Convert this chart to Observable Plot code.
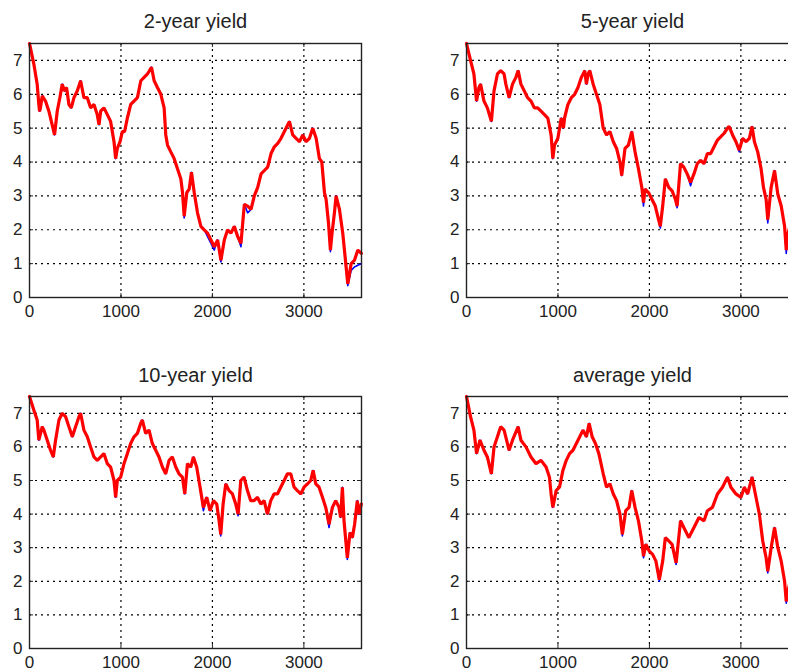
<!DOCTYPE html>
<html>
<head>
<meta charset="utf-8">
<script src="https://cdn.jsdelivr.net/npm/d3@7"></script>
<script src="https://cdn.jsdelivr.net/npm/@observablehq/plot@0.6"></script>
<style>
  body { margin: 0; background: #fff; }
  #fig { position: relative; width: 788px; height: 671px; overflow: hidden; background: #fff; }
  #fig > .cell { position: absolute; width: 390px; }
  #fig svg { max-width: none !important; display: block; }
</style>
</head>
<body>
<div id="fig"></div>
<script>
// Axis ticks shared by all four panels
const xTicks = [0, 1000, 2000, 3000];
const yTicks = [0, 1, 2, 3, 4, 5, 6, 7];
const titles = ["2-year yield", "5-year yield", "10-year yield", "average yield"];

// 2-year yield: day index, observed (blue) and fitted (red)
const day2 = [0,47,84,102,110,120,139,175,212,248,274,303,332,358,383,405,431,457,486,522,559,595,632,668,705,741,760,778,814,851,887,924,942,960,990,1015,1040,1070,1107,1143,1180,1217,1253,1290,1334,1363,1399,1436,1472,1490,1509,1545,1582,1618,1655,1673,1691,1720,1746,1771,1801,1837,1874,1910,1947,1984,2020,2057,2093,2130,2166,2203,2239,2276,2312,2349,2385,2422,2458,2495,2532,2568,2604,2641,2677,2714,2750,2787,2842,2878,2915,2951,2988,3024,3061,3097,3134,3170,3196,3225,3243,3269,3290,3308,3334,3352,3389,3425,3462,3480,3517,3553,3590,3628];
const fit2 = [7.5,6.9,6.3,5.7,5.5,5.6,5.95,5.8,5.5,5.1,4.8,5.5,5.9,6.3,6.1,6.2,5.7,5.6,5.9,6.1,6.4,5.9,5.9,5.6,5.7,5.4,5.1,5.5,5.6,5.4,5.2,4.6,4.1,4.4,4.6,4.9,4.9,5.3,5.7,5.8,5.9,6.4,6.5,6.6,6.8,6.4,6.2,6.0,5.6,4.8,4.5,4.3,4.1,3.8,3.5,3.1,2.4,3.1,3.2,3.7,3.1,2.5,2.1,2.0,1.9,1.7,1.5,1.7,1.1,1.7,2.0,1.9,2.1,1.8,1.6,2.75,2.7,2.6,3.0,3.25,3.65,3.75,3.85,4.25,4.45,4.55,4.7,4.9,5.2,4.8,4.7,4.6,4.8,4.6,4.7,5.0,4.7,4.1,4.0,3.1,2.9,2.2,1.4,1.9,2.5,3.0,2.6,1.9,0.9,0.4,1.0,1.1,1.4,1.3];
const obs2 = [7.5,6.9,6.3,5.7,5.5,5.6,5.95,5.8,5.5,5.1,4.8,5.5,5.9,6.3,6.1,6.2,5.7,5.6,5.9,6.1,6.4,5.9,5.9,5.6,5.7,5.4,5.1,5.5,5.6,5.4,5.2,4.6,4.1,4.4,4.6,4.9,4.9,5.3,5.7,5.8,5.9,6.4,6.5,6.6,6.8,6.4,6.2,6.0,5.6,4.8,4.5,4.3,4.1,3.8,3.5,3.1,2.35,3.1,3.2,3.7,3.1,2.5,2.1,2.0,1.8,1.6,1.4,1.7,1.05,1.7,2.0,1.9,2.1,1.8,1.5,2.75,2.5,2.6,3.0,3.25,3.65,3.75,3.85,4.25,4.45,4.55,4.7,4.9,5.2,4.8,4.7,4.6,4.8,4.6,4.7,5.0,4.7,4.1,4.0,3.1,2.9,2.2,1.35,1.9,2.5,3.0,2.6,1.9,0.8,0.35,0.8,0.9,0.95,1.0];

// 5-year yield
const day5 = [0,44,81,110,136,154,191,228,272,301,338,374,411,430,466,503,540,565,595,632,668,705,742,778,815,852,889,925,944,962,999,1036,1060,1072,1109,1146,1183,1219,1256,1293,1311,1330,1348,1385,1421,1458,1495,1531,1568,1605,1641,1678,1697,1733,1770,1807,1843,1880,1917,1935,1953,1990,2027,2064,2100,2119,2145,2174,2211,2248,2284,2303,2340,2376,2413,2450,2487,2523,2560,2597,2634,2670,2707,2744,2781,2817,2854,2872,2909,2946,2982,3019,3056,3093,3122,3148,3184,3221,3247,3276,3294,3331,3368,3404,3441,3478,3496,3515,3548,3590,3628];
const fit5 = [7.5,7.0,6.6,5.8,6.2,6.3,5.8,5.6,5.2,6.1,6.6,6.7,6.6,6.3,5.9,6.3,6.5,6.7,6.3,6.1,5.9,5.8,5.6,5.6,5.5,5.4,5.3,4.8,4.1,4.5,4.7,5.3,5.0,5.3,5.7,5.9,6.0,6.2,6.5,6.7,6.3,6.6,6.7,6.3,6.0,5.7,5.0,4.8,4.9,4.6,4.4,4.0,3.6,4.4,4.5,4.9,4.3,3.8,3.25,2.8,3.2,3.1,2.9,2.7,2.3,2.1,2.7,3.5,3.25,3.15,2.9,2.7,3.95,3.85,3.65,3.4,3.65,3.95,4.05,3.95,4.25,4.25,4.45,4.65,4.75,4.85,5.0,5.05,4.8,4.6,4.35,4.7,4.6,4.7,5.05,4.6,4.3,3.8,3.25,2.9,2.3,3.25,3.75,3.05,2.7,2.1,1.4,1.9,2.2,2.0,2.3];
const obs5 = [7.5,7.0,6.6,5.8,6.2,6.3,5.8,5.6,5.2,6.1,6.6,6.7,6.6,6.3,5.9,6.3,6.5,6.7,6.3,6.1,5.9,5.8,5.6,5.6,5.5,5.4,5.3,4.8,4.1,4.5,4.7,5.3,5.0,5.3,5.7,5.9,6.0,6.2,6.5,6.7,6.3,6.6,6.7,6.3,6.0,5.7,5.0,4.8,4.9,4.6,4.4,4.0,3.6,4.4,4.5,4.9,4.3,3.8,3.25,2.7,3.2,3.1,2.9,2.7,2.3,2.05,2.7,3.5,3.25,3.15,2.9,2.65,3.95,3.85,3.65,3.3,3.65,3.95,4.05,3.95,4.25,4.25,4.45,4.65,4.75,4.85,5.0,5.05,4.8,4.6,4.3,4.7,4.6,4.7,5.05,4.6,4.3,3.8,3.25,2.9,2.2,3.25,3.75,3.05,2.7,2.1,1.3,1.9,2.2,2.0,2.3];

// 10-year yield
const day10 = [0,47,84,102,139,157,194,230,260,285,322,358,395,431,468,504,541,559,595,632,668,705,741,778,814,851,887,924,942,960,997,1033,1070,1106,1143,1179,1216,1234,1270,1307,1343,1380,1416,1453,1489,1526,1562,1599,1635,1672,1698,1727,1763,1792,1828,1865,1901,1938,1974,2011,2047,2073,2091,2117,2146,2182,2219,2255,2281,2310,2346,2383,2419,2456,2492,2529,2565,2601,2638,2674,2711,2747,2784,2820,2857,2893,2929,2966,3002,3039,3075,3101,3130,3166,3203,3239,3275,3312,3348,3384,3402,3421,3439,3475,3504,3530,3555,3584,3602,3628];
const fit10 = [7.5,7.1,6.8,6.2,6.6,6.5,6.2,5.9,5.7,6.2,6.8,7.0,6.9,6.6,6.3,6.6,6.9,7.0,6.5,6.3,6.0,5.7,5.6,5.7,5.8,5.5,5.4,5.0,4.5,5.0,5.1,5.5,5.8,6.1,6.3,6.4,6.7,6.8,6.4,6.5,6.1,5.9,5.7,5.4,5.2,5.6,5.7,5.4,5.2,5.1,4.6,5.5,5.4,5.7,5.4,4.8,4.2,4.5,4.1,4.4,4.3,3.8,3.4,4.3,4.9,4.7,4.6,4.3,4.0,5.0,5.1,4.7,4.4,4.4,4.5,4.3,4.4,4.0,4.4,4.6,4.6,4.8,5.0,5.2,5.2,4.8,4.7,4.6,4.8,4.9,5.0,5.3,4.9,4.8,4.5,4.2,3.7,4.2,4.4,4.2,3.9,4.8,3.8,2.7,3.45,3.3,3.7,4.4,4.0,4.3];
const obs10 = [7.5,7.1,6.8,6.2,6.6,6.5,6.2,5.9,5.7,6.2,6.8,7.0,6.9,6.6,6.3,6.6,6.9,7.0,6.5,6.3,6.0,5.7,5.6,5.7,5.8,5.5,5.4,5.0,4.5,5.0,5.1,5.5,5.8,6.1,6.3,6.4,6.7,6.8,6.4,6.5,6.1,5.9,5.7,5.4,5.2,5.6,5.7,5.4,5.2,5.1,4.6,5.5,5.4,5.7,5.4,4.8,4.1,4.5,4.1,4.4,4.3,3.8,3.35,4.3,4.9,4.7,4.6,4.3,3.95,5.0,5.1,4.7,4.4,4.4,4.5,4.3,4.4,4.0,4.4,4.6,4.6,4.8,5.0,5.2,5.2,4.8,4.7,4.6,4.8,4.9,5.0,5.3,4.9,4.8,4.5,4.2,3.6,4.2,4.4,4.2,3.9,4.8,3.8,2.65,3.45,3.3,3.7,4.4,4.0,4.3];

// Average yield
const dayAvg = [0,44,81,110,147,191,228,272,301,338,374,411,466,503,565,595,650,705,760,815,870,907,925,944,980,1017,1054,1091,1127,1164,1201,1238,1274,1311,1341,1374,1410,1447,1495,1531,1568,1605,1641,1678,1704,1741,1777,1807,1843,1880,1917,1935,1961,1998,2035,2071,2108,2145,2174,2211,2248,2292,2340,2376,2431,2487,2542,2597,2634,2689,2744,2799,2854,2891,2946,3001,3038,3074,3122,3158,3202,3239,3276,3294,3331,3368,3404,3441,3478,3496,3522,3548,3590,3628];
const fitAvg = [7.5,6.9,6.5,5.8,6.2,5.9,5.7,5.2,6.0,6.3,6.6,6.5,5.9,6.2,6.6,6.2,6.0,5.7,5.5,5.6,5.4,5.1,4.6,4.2,4.7,4.8,5.3,5.6,5.8,5.9,6.1,6.3,6.5,6.3,6.7,6.3,6.1,5.8,5.2,4.8,4.9,4.6,4.4,4.0,3.4,4.1,4.2,4.7,4.2,3.8,3.2,2.75,3.1,2.9,2.8,2.6,2.05,2.6,3.3,3.2,3.1,2.55,3.8,3.6,3.3,3.6,3.9,3.8,4.1,4.2,4.6,4.8,5.1,4.8,4.6,4.5,4.8,4.6,5.1,4.6,4.0,3.2,2.7,2.3,3.0,3.6,3.0,2.6,2.0,1.4,1.8,2.1,1.9,2.1];
const obsAvg = [7.5,6.9,6.5,5.8,6.2,5.9,5.7,5.2,6.0,6.3,6.6,6.5,5.9,6.2,6.6,6.2,6.0,5.7,5.5,5.6,5.4,5.1,4.6,4.2,4.7,4.8,5.3,5.6,5.8,5.9,6.1,6.3,6.5,6.3,6.7,6.3,6.1,5.8,5.2,4.8,4.9,4.6,4.4,4.0,3.35,4.1,4.2,4.7,4.2,3.8,3.2,2.7,3.1,2.9,2.8,2.6,2.0,2.6,3.3,3.2,3.1,2.5,3.8,3.6,3.3,3.6,3.9,3.8,4.1,4.2,4.6,4.8,5.1,4.8,4.6,4.5,4.8,4.6,5.1,4.6,4.0,3.2,2.7,2.25,3.0,3.6,3.0,2.6,2.0,1.35,1.8,2.1,1.9,2.1];

const panels = [
  {title: titles[0], days: day2, obs: obs2, fit: fit2, left: 0, top: 0, height: 320, marginBottom: 23, titleDy: -22},
  {title: titles[1], days: day5, obs: obs5, fit: fit5, left: 437, top: 0, height: 320, marginBottom: 23, titleDy: -22},
  {title: titles[2], days: day10, obs: obs10, fit: fit10, left: 0, top: 353, height: 318, marginBottom: 23, titleDy: -21},
  {title: titles[3], days: dayAvg, obs: obsAvg, fit: fitAvg, left: 437, top: 353, height: 318, marginBottom: 23, titleDy: -21}
];

function drawPanel(p) {
  const width = 390, marginLeft = 29, marginRight = 29, marginTop = 43;
  const frameW = width - marginLeft - marginRight;
  const frameH = p.height - marginTop - p.marginBottom;
  const obsRows = p.days.map((d, i) => ({day: d, value: p.obs[i]}));
  const fitRows = p.days.map((d, i) => ({day: d, value: p.fit[i]}));
  const dotted = {stroke: "#000", strokeOpacity: 1, strokeWidth: 1.2, strokeDasharray: "2,4"};
  return Plot.plot({
    width, height: p.height,
    marginLeft, marginRight, marginTop, marginBottom: p.marginBottom,
    style: {fontFamily: "'Liberation Sans', Arial, sans-serif", fontSize: "17px", color: "#222", background: "#fff", overflow: "visible", maxWidth: "none"},
    x: {domain: [0, 3630]},
    y: {domain: [0, 7.5]},
    marks: [
      Plot.gridX(xTicks.slice(1), dotted),
      Plot.gridY(yTicks.slice(1), dotted),
      // short inward tick marks on all four sides
      Plot.tickX(xTicks, {x: d => d, insetTop: frameH - 4, stroke: "#222"}),
      Plot.tickX(xTicks, {x: d => d, insetBottom: frameH - 4, stroke: "#222"}),
      Plot.tickY(yTicks, {y: d => d, insetRight: frameW - 4, stroke: "#222"}),
      Plot.tickY(yTicks, {y: d => d, insetLeft: frameW - 4, stroke: "#222"}),
      Plot.line(obsRows, {x: "day", y: "value", stroke: "#0000ff", strokeWidth: 1.6}),
      Plot.line(fitRows, {x: "day", y: "value", stroke: "#ff0000", strokeWidth: 3.2, strokeLinejoin: "miter"}),
      Plot.frame({stroke: "#222", strokeWidth: 1.4}),
      Plot.axisX(xTicks, {tickSize: 0, tickPadding: 7, label: null, fill: "#222", tickFormat: d3.format("d")}),
      Plot.axisY(yTicks, {tickSize: 0, tickPadding: 7, label: null, fill: "#222", tickFormat: d3.format("d")}),
      Plot.text([p.title], {frameAnchor: "top", lineAnchor: "middle", dy: p.titleDy, fontSize: 20, fill: "#222"})
    ]
  });
}

const fig = document.getElementById("fig");
for (const p of panels) {
  const cell = document.createElement("div");
  cell.className = "cell";
  cell.style.left = p.left + "px";
  cell.style.top = p.top + "px";
  cell.appendChild(drawPanel(p));
  fig.appendChild(cell);
}
</script>
</body>
</html>
